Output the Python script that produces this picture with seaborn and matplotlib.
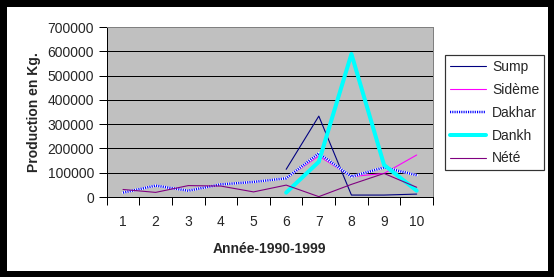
import numpy as np
import pandas as pd
import matplotlib
matplotlib.use("Agg")
import matplotlib.pyplot as plt
from matplotlib.lines import Line2D
import seaborn as sns

years = [1, 2, 3, 4, 5, 6, 7, 8, 9, 10]
sump = [np.nan, np.nan, np.nan, np.nan, np.nan, 114000, 333000, 8000, 8000, 12000]
sideme = [np.nan, np.nan, np.nan, np.nan, np.nan, 77000, 169000, 84000, 97000, 173000]
dakhar = [18000, 47000, 26000, 52000, 62000, 77000, 180000, 84000, 122000, 90000]
dankh = [np.nan, np.nan, np.nan, np.nan, np.nan, 18000, 145000, 589000, 132000, 26000]
nete = [31000, 19000, 47000, 45000, 21000, 49000, 1500, 52000, 97000, 40000]
series_names = ['Sump', 'Sidème', 'Dakhar', 'Dankh', 'Nété']
y_ticks = [0, 100000, 200000, 300000, 400000, 500000, 600000, 700000]

sns.set_theme(style="white")
plt.rcParams['font.family'] = ['Liberation Sans', 'DejaVu Sans']

fig = plt.figure(figsize=(5.54, 2.77), dpi=100)
fig.patch.set_facecolor('white')
fig.patch.set_edgecolor('black')
fig.patch.set_linewidth(8)

ax = fig.add_axes([0.1926, 0.2888, 0.7816 - 0.1926, 0.9025 - 0.2888])
ax.set_facecolor('#C0C0C0')

px = 0.72
styles = {
    'Sump': dict(color='#000080', lw=1.1 * px),
    'Sidème': dict(color='#FF00FF', lw=1.1 * px),
    'Dakhar': dict(color='#0000FF', lw=2.5 * px, ls=(0, (0.45, 0.45))),
    'Dankh': dict(color='#00FFFF', lw=4 * px),
    'Nété': dict(color='#800080', lw=1.1 * px),
}
data = {'Sump': sump, 'Sidème': sideme, 'Dakhar': dakhar, 'Dankh': dankh, 'Nété': nete}

for name in series_names:
    if name == 'Dakhar':
        sns.lineplot(x=years, y=data[name], ax=ax, color='white', lw=2.5 * px, legend=False)
    sns.lineplot(x=years, y=data[name], ax=ax, legend=False, **styles[name])

ax.set_xlim(0.5, 10.5)
ax.set_ylim(0, 700000)
ax.set_yticks(y_ticks)
ax.set_yticklabels([str(v) for v in y_ticks], fontsize=10)
ax.yaxis.grid(True, color='black', lw=1 * px)
ax.xaxis.grid(False)
for gl in ax.get_ygridlines():
    gl.set_zorder(0.5)

ax.set_xticks([i + 0.5 for i in range(0, 11)])
ax.set_xticklabels([])
ax.set_xticks(years, minor=True)
ax.set_xticklabels([str(y) for y in years], minor=True, fontsize=10)
ax.tick_params(axis='x', which='major', direction='out', length=6, width=px, color='black', bottom=True)
ax.tick_params(axis='x', which='minor', length=0, pad=13)
ax.tick_params(axis='y', which='major', direction='out', length=6, width=px, color='black', left=True, pad=3)

for s in ['left', 'bottom']:
    ax.spines[s].set_color('black')
    ax.spines[s].set_linewidth(px)
for s in ['top', 'right']:
    ax.spines[s].set_color('#808080')
    ax.spines[s].set_linewidth(px)

ax.set_xlabel('Année-1990-1999', fontsize=10, fontweight='bold', labelpad=9)
ax.set_ylabel('Production en Kg.', fontsize=10, fontweight='bold', labelpad=5)

handles = [Line2D([], [], **styles[n]) for n in series_names]
leg = fig.legend(handles, series_names, loc='upper left', bbox_to_anchor=(0.803, 0.8014),
                 frameon=True, fancybox=False, edgecolor='black', fontsize=10,
                 handlelength=2.6, handletextpad=0.45, labelspacing=0.64,
                 borderpad=0.35, borderaxespad=0)
leg.get_frame().set_linewidth(1.2 * px)
leg.get_frame().set_facecolor('white')

fig.savefig('out.png', dpi=100, facecolor=fig.get_facecolor(), edgecolor=fig.get_edgecolor())
